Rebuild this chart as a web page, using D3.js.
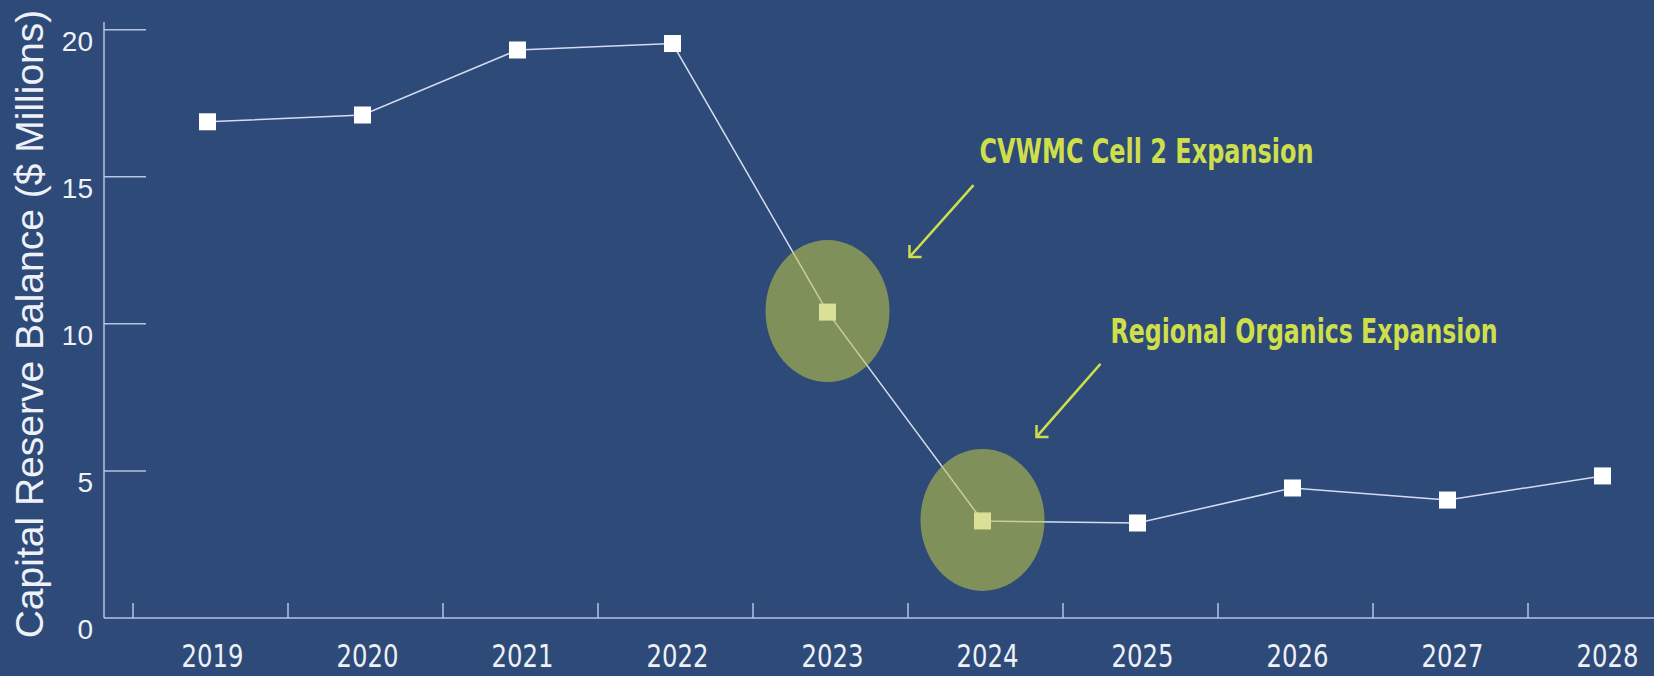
<!DOCTYPE html>
<html>
<head>
<meta charset="utf-8">
<script src="https://cdnjs.cloudflare.com/ajax/libs/d3/7.8.5/d3.min.js"></script>
<style>
    html, body { margin: 0; padding: 0; background: #2e4a78; overflow: hidden; }
    svg { display: block; }
</style>
</head>
<body>
<div id="chart"></div>
<script>
const years = ["2019", "2020", "2021", "2022", "2023", "2024", "2025", "2026", "2027", "2028"];
const balance = [16.87, 17.10, 19.31, 19.53, 10.40, 3.30, 3.23, 4.42, 4.01, 4.83];
const yTicks = [0, 5, 10, 15, 20];
const highlightYears = ["2023", "2024"];
const noteLabels = ["CVWMC Cell 2 Expansion", "Regional Organics Expansion"];

const width = 1654;
const height = 676;

const bg = "#2e4a78";
const axisColor = "#b4c4e4";
const textColor = "#eef1f7";
const noteColor = "#cfdf4c";
const narrow = "'Liberation Sans Narrow', 'DejaVu Sans Condensed', sans-serif";

const svg = d3.select("#chart")
    .append("svg")
    .attr("width", width)
    .attr("height", height);

svg.append("rect")
    .attr("width", width)
    .attr("height", height)
    .attr("fill", bg);

const x = d3.scaleBand()
    .domain(years)
    .range([130, 1680]);

const y = d3.scaleLinear()
    .domain([0, 20])
    .range([618, 29.7]);

const cx = d => x(d) + x.bandwidth() / 2;

// y axis line + inner ticks
svg.append("line")
    .attr("x1", 104).attr("x2", 104)
    .attr("y1", 22).attr("y2", y(0))
    .attr("stroke", axisColor)
    .attr("stroke-width", 1.5);

svg.selectAll(".ytick")
    .data(yTicks.filter(d => d > 0))
    .join("line")
    .attr("x1", 104)
    .attr("x2", 146)
    .attr("y1", d => y(d))
    .attr("y2", d => y(d))
    .attr("stroke", axisColor)
    .attr("stroke-width", 1.5);

svg.selectAll(".ylabel")
    .data(yTicks)
    .join("text")
    .attr("x", 93)
    .attr("y", d => y(d) + 21)
    .attr("text-anchor", "end")
    .attr("font-family", "'Liberation Sans', Arial, sans-serif")
    .attr("font-size", "28px")
    .attr("fill", textColor)
    .text(d => d);

// y axis title
svg.append("text")
    .attr("transform", "translate(43,324) rotate(-90)")
    .attr("text-anchor", "middle")
    .attr("font-family", "'Liberation Sans', Arial, sans-serif")
    .attr("font-size", "39px")
    .attr("fill", textColor)
    .text("Capital Reserve Balance ($ Millions)");

// x axis line + band ticks
svg.append("line")
    .attr("x1", 104).attr("x2", width)
    .attr("y1", y(0)).attr("y2", y(0))
    .attr("stroke", axisColor)
    .attr("stroke-width", 1.5);

svg.selectAll(".xtick")
    .data(years)
    .join("line")
    .attr("x1", d => x(d) + 3)
    .attr("x2", d => x(d) + 3)
    .attr("y1", y(0) - 15)
    .attr("y2", y(0))
    .attr("stroke", axisColor)
    .attr("stroke-width", 1.5);

svg.selectAll(".xlabel")
    .data(years)
    .join("text")
    .attr("x", d => cx(d) + 5)
    .attr("y", 667)
    .attr("text-anchor", "middle")
    .attr("font-family", narrow)
    .attr("font-size", "32px")
    .attr("textLength", 62)
    .attr("lengthAdjust", "spacingAndGlyphs")
    .attr("fill", textColor)
    .text(d => d);

// the line
const points = years.map((d, i) => ({ year: d, value: balance[i] }));

const line = d3.line()
    .x(d => cx(d.year))
    .y(d => y(d.value));

svg.append("path")
    .datum(points)
    .attr("d", line)
    .attr("fill", "none")
    .attr("stroke", "#d4dcf0")
    .attr("stroke-width", 1.5);

const size = 17;
svg.selectAll(".dot")
    .data(points)
    .join("rect")
    .attr("x", d => cx(d.year) - size / 2)
    .attr("y", d => y(d.value) - size / 2)
    .attr("width", size)
    .attr("height", size)
    .attr("fill", "#ffffff");

// highlight ellipses on top (translucent)
svg.selectAll(".halo")
    .data(points.filter(d => highlightYears.includes(d.year)))
    .join("ellipse")
    .attr("cx", d => cx(d.year))
    .attr("cy", d => y(d.value) - 1)
    .attr("rx", 62)
    .attr("ry", 71)
    .attr("fill", "rgb(190,200,70)")
    .attr("fill-opacity", 0.56);

// annotations: offsets from the highlighted point
const noteLayout = [
    { tail: [146, -127], tip: [82, -55], text: [152, -149], len: 334 },
    { tail: [118, -157], tip: [54, -84], text: [128, -178], len: 387 }
];

highlightYears.forEach((yr, i) => {
    const p = points.find(d => d.year === yr);
    const px = cx(p.year), py = y(p.value);
    const L = noteLayout[i];
    const tx = px + L.tip[0], ty = py + L.tip[1];

    svg.append("line")
        .attr("x1", px + L.tail[0]).attr("y1", py + L.tail[1])
        .attr("x2", tx).attr("y2", ty)
        .attr("stroke", noteColor)
        .attr("stroke-width", 2.5);

    svg.append("path")
        .attr("d", `M${tx},${ty - 12} L${tx},${ty} L${tx + 12},${ty}`)
        .attr("fill", "none")
        .attr("stroke", noteColor)
        .attr("stroke-width", 2.5);

    svg.append("text")
        .attr("x", px + L.text[0])
        .attr("y", py + L.text[1])
        .attr("font-family", narrow)
        .attr("font-weight", "bold")
        .attr("font-size", "33px")
        .attr("textLength", L.len)
        .attr("lengthAdjust", "spacingAndGlyphs")
        .attr("fill", noteColor)
        .text(noteLabels[i]);
});
</script>
</body>
</html>
